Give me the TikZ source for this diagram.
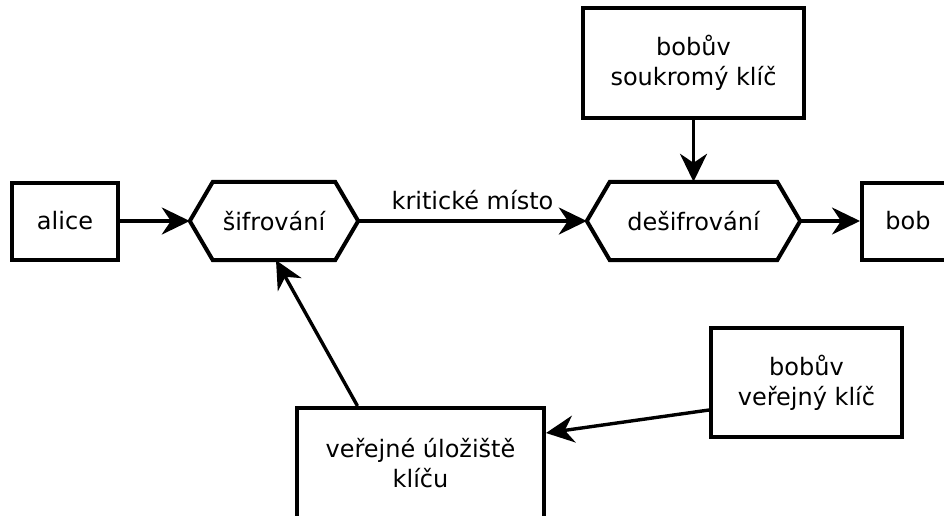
\documentclass[tikz,border=0pt]{standalone}
\usepackage{fontspec}
\setmainfont{DejaVu Sans}
\usetikzlibrary{arrows.meta,calc}
\begin{document}
\begin{tikzpicture}[x=1pt,y=-1pt,
  box/.style={draw, line width=4pt, rectangle, inner sep=0pt, align=center,
    font=\fontsize{24}{30}\selectfont},
  hexnode/.style={rectangle, inner sep=0pt, align=center,
    font=\fontsize{24}{30}\selectfont},
  conn/.style={line width=3.4pt, -{Stealth[length=28pt,width=27pt,inset=9pt]}},
  hexline/.style={draw, line width=4pt, line join=miter}
]
\useasboundingbox (0,0) rectangle (944,515);
\clip (0,0) rectangle (944,515);
\fill[white] (0,0) rectangle (944,515);

\node[box, minimum width=106pt, minimum height=77pt] (alice) at (65,221) {alice};
\node[hexnode, minimum width=168pt, minimum height=78pt] (sif) at (274,221) {šifrování};
\node[hexnode, minimum width=213pt, minimum height=78pt] (des) at (693.5,221) {dešifrování};
\node[box, minimum width=92pt, minimum height=77pt] (bob) at (908,221) {bob};
\node[box, minimum width=221pt, minimum height=110pt] (souk) at (693.5,63) {bobův\\soukromý klíč};
\node[box, minimum width=191pt, minimum height=109pt] (ver) at (806.5,382.5) {bobův\\veřejný klíč};
\node[box, minimum width=247pt, minimum height=110pt] (ul) at (420.5,463) {veřejné úložiště\\klíču};

% hexagon outlines
\foreach \h in {sif,des} {
  \draw[hexline] (\h.west) -- ([xshift=23pt]\h.north west) -- ([xshift=-23pt]\h.north east)
    -- (\h.east) -- ([xshift=-23pt]\h.south east) -- ([xshift=23pt]\h.south west) -- cycle;
}

\draw[conn] (alice.east) -- (sif.west);
\draw[conn] (sif.east) -- node[above=6pt, font=\fontsize{24}{30}\selectfont] (krit) {kritické místo} (des.west);
\draw[conn] (souk.south) -- (des.north);
\draw[conn] (des.east) -- (bob.west);
\draw[conn] ([yshift=-27.5pt]ver.west) -- ([yshift=30pt]ul.east);
\draw[conn] ([xshift=-63pt]ul.north) -- ([xshift=2pt]sif.south);
\end{tikzpicture}
\end{document}
